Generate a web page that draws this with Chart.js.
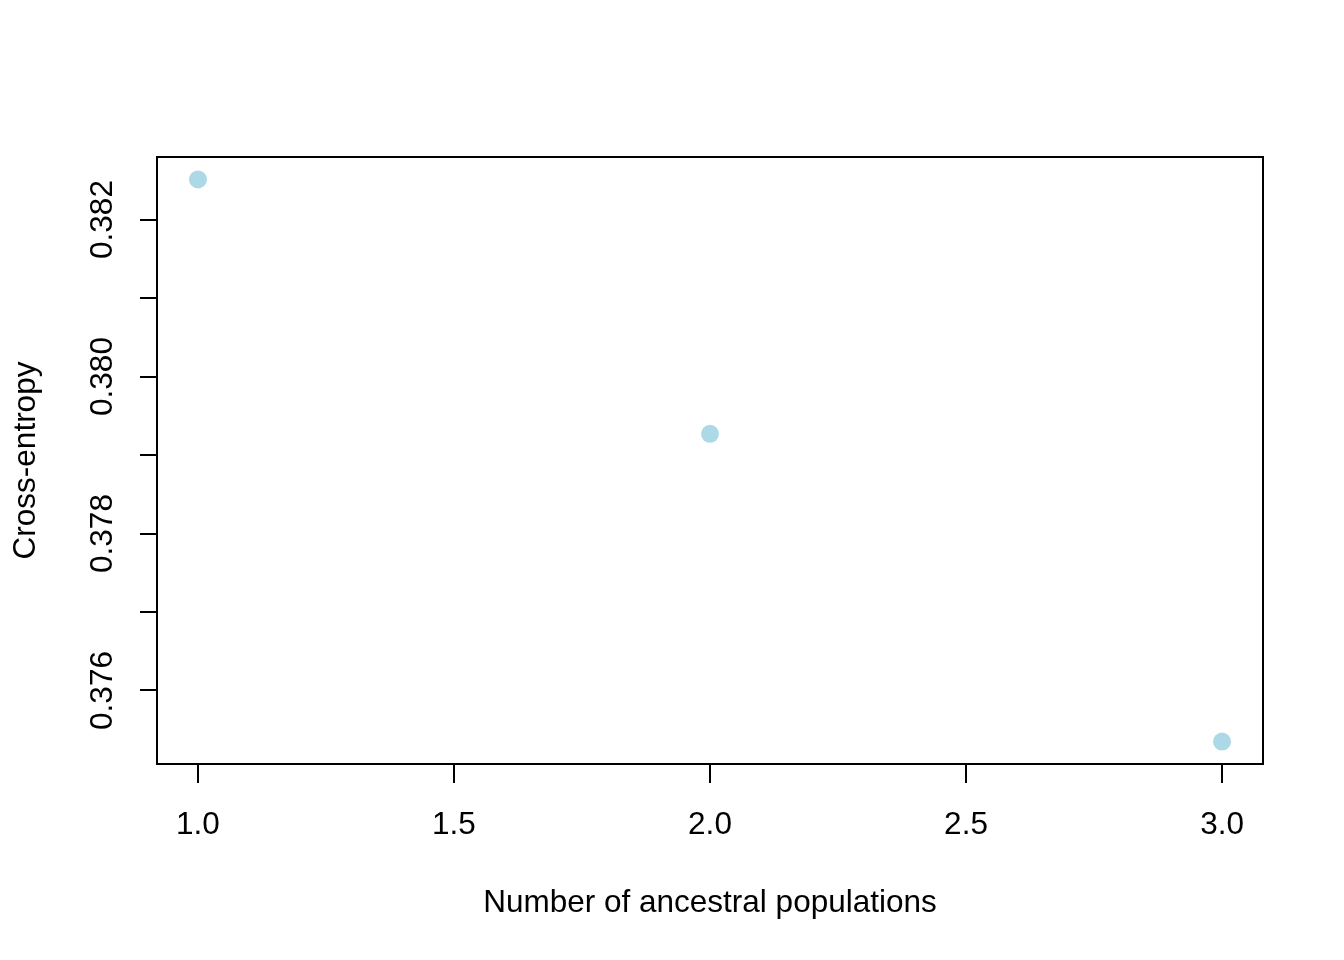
<!DOCTYPE html>
<html>
<head>
<meta charset="utf-8">
<script src="https://cdn.jsdelivr.net/npm/chart.js@4/dist/chart.umd.min.js"></script>
<style>
  body { margin: 0; background: #fff; }
  #wrap { width: 1344px; height: 960px; }
</style>
</head>
<body>
<div id="wrap"><canvas id="crossEntropyChart" width="1344" height="960"></canvas></div>
<script>
// values
const populations = [1, 2, 3];
const crossEntropy = [0.38251, 0.37927, 0.37535];
const xTicks = [1.0, 1.5, 2.0, 2.5, 3.0];
const yLabelled = [0.376, 0.378, 0.380, 0.382];

const xTitle = "Number of ancestral populations";
const yTitle = "Cross-entropy";
const FONT = '31.5px "Liberation Sans", Arial, sans-serif';

// R style 4% padding around the data range
function padRange(vals) {
    const lo = Math.min(...vals), hi = Math.max(...vals);
    const d = (hi - lo) * 0.04;
    return [lo - d, hi + d];
}
const [xMin, xMax] = padRange(populations);
const [yMin, yMax] = padRange(crossEntropy);

const rAxes = {
    id: "rAxes",
    afterDraw(chart) {
        const ctx = chart.ctx;
        const a = chart.chartArea;
        const xs = chart.scales.x, ys = chart.scales.y;
        ctx.save();
        ctx.strokeStyle = "#000";
        ctx.lineWidth = 2;
        ctx.strokeRect(a.left, a.top, a.right - a.left, a.bottom - a.top);

        ctx.fillStyle = "#000";
        ctx.font = FONT;
        ctx.textAlign = "center";
        ctx.textBaseline = "alphabetic";
        xTicks.forEach(v => {
            ctx.fillText(v.toFixed(1), xs.getPixelForValue(v), 834);
        });
        ctx.fillText(xTitle, (a.left + a.right) / 2, 912);

        yLabelled.forEach(v => {
            ctx.save();
            ctx.translate(112, ys.getPixelForValue(v));
            ctx.rotate(-Math.PI / 2);
            ctx.fillText(v.toFixed(3), 0, 0);
            ctx.restore();
        });
        ctx.save();
        ctx.translate(35, (a.top + a.bottom) / 2);
        ctx.rotate(-Math.PI / 2);
        ctx.fillText(yTitle, 0, 0);
        ctx.restore();
        ctx.restore();
    }
};

new Chart(document.getElementById("crossEntropyChart").getContext("2d"), {
    type: "scatter",
    data: {
        datasets: [{
            data: populations.map((p, i) => ({ x: p, y: crossEntropy[i] })),
            backgroundColor: "#ADD8E6",
            borderWidth: 0,
            pointRadius: 9,
            pointHoverRadius: 9
        }]
    },
    options: {
        responsive: false,
        devicePixelRatio: 1,
        animation: false,
        layout: { padding: { left: 140, right: 81, top: 157, bottom: 177 } },
        plugins: { legend: { display: false }, tooltip: { enabled: false } },
        scales: {
            x: {
                type: "linear",
                min: xMin,
                max: xMax,
                border: { display: false },
                grid: { drawOnChartArea: false, drawTicks: true, tickLength: 19, color: "#000", lineWidth: 2 },
                ticks: { display: false, stepSize: 0.5, includeBounds: false }
            },
            y: {
                type: "linear",
                min: yMin,
                max: yMax,
                border: { display: false },
                grid: { drawOnChartArea: false, drawTicks: true, tickLength: 17, color: "#000", lineWidth: 2 },
                ticks: { display: false, stepSize: 0.001, includeBounds: false }
            }
        }
    },
    plugins: [rAxes]
});
</script>
</body>
</html>
